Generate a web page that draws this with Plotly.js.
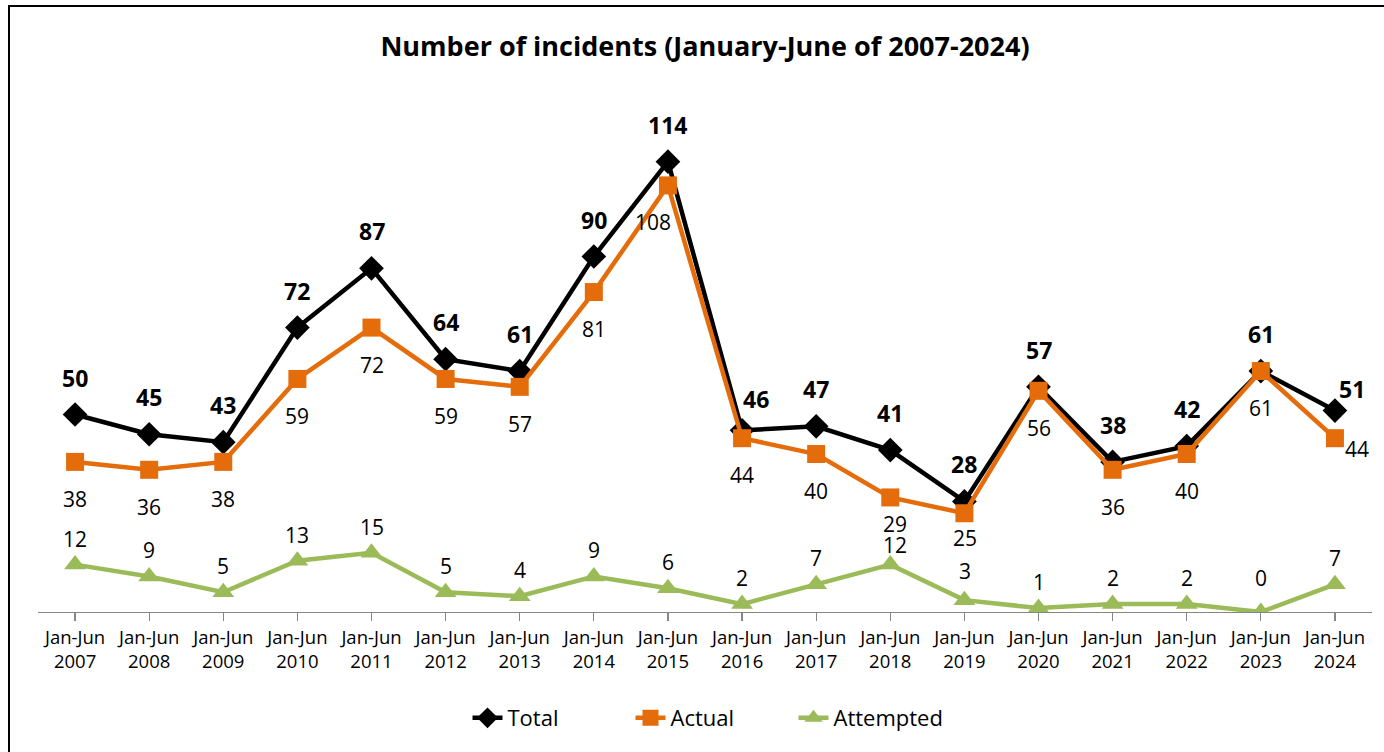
<!DOCTYPE html>
<html>
<head>
<meta charset="utf-8">
<script src="https://cdn.plot.ly/plotly-3.0.1.min.js"></script>
<style>
  html, body { margin: 0; padding: 0; background: #fff; overflow: hidden; }
  #chart { width: 1384px; height: 752px; }
  #frame { position: absolute; left: 8px; top: 5px; width: 1420px; height: 800px; border: 2px solid #000; pointer-events: none; }
</style>
</head>
<body>
<div id="chart"></div>
<div id="frame"></div>
<script>
const categories = ["2007","2008","2009","2010","2011","2012","2013","2014","2015","2016","2017","2018","2019","2020","2021","2022","2023","2024"];
const tickLabels = categories.map(y => "Jan-Jun<br>" + y);
const total =     [50, 45, 43, 72, 87, 64, 61, 90, 114, 46, 47, 41, 28, 57, 38, 42, 61, 51];
const actual =    [38, 36, 38, 59, 72, 59, 57, 81, 108, 44, 40, 29, 25, 56, 36, 40, 61, 44];
const attempted = [12,  9,  5, 13, 15,  5,  4,  9,   6,  2,  7, 12,  3,  1,  2,  2,  0,  7];

const FONT = "'Open Sans', Lato, sans-serif";
const cBlack = "#000000", cOrange = "#E46C0A", cGreen = "#9BBB59";
const xs = categories.map((_, i) => i);

const traces = [
  { x: xs, y: total, name: "Total", mode: "lines+markers", type: "scatter",
    line: { color: cBlack, width: 4.5 }, marker: { symbol: "diamond", size: 19, color: cBlack } },
  { x: xs, y: actual, name: "Actual", mode: "lines+markers", type: "scatter",
    line: { color: cOrange, width: 4.5 }, marker: { symbol: "square", size: 18, color: cOrange } },
  { x: xs, y: attempted, name: "Attempted", mode: "lines+markers", type: "scatter",
    line: { color: cGreen, width: 4.5 }, marker: { symbol: "triangle-up", size: 19, color: cGreen } }
];

// label offsets (pixels)
const totalShift = xs.map(i => ({ dx: 0, dy: 37 }));
totalShift[9] = { dx: 14, dy: 31 };
totalShift[17] = { dx: 17, dy: 22 };
const actualShift = xs.map(i => ({ dx: 0, dy: -37 }));
actualShift[8] = { dx: -15, dy: -37 };
actualShift[11] = { dx: 5, dy: -27 };
actualShift[12] = { dx: 1, dy: -25 };
actualShift[17] = { dx: 22, dy: -11 };
const attShift = xs.map(i => ({ dx: 0, dy: 26 }));
attShift[11] = { dx: 5, dy: 20 };
attShift[12] = { dx: 1, dy: 29 };
attShift[16] = { dx: 0, dy: 34 };

const annotations = [];
xs.forEach(i => {
  annotations.push({ x: i, y: total[i], text: "<b>" + total[i] + "</b>", showarrow: false,
    xshift: totalShift[i].dx, yshift: totalShift[i].dy, font: { family: FONT, size: 23, color: "#000" } });
  annotations.push({ x: i, y: actual[i], text: String(actual[i]), showarrow: false,
    xshift: actualShift[i].dx, yshift: actualShift[i].dy, font: { family: FONT, size: 21, color: "#000" } });
  annotations.push({ x: i, y: attempted[i], text: String(attempted[i]), showarrow: false,
    xshift: attShift[i].dx, yshift: attShift[i].dy, font: { family: FONT, size: 21, color: "#000" } });
});

const layout = {
  width: 1384, height: 752,
  margin: { l: 38, r: 12, t: 138, b: 140 },
  paper_bgcolor: "#fff", plot_bgcolor: "#fff",
  title: { text: "<b>Number of incidents (January-June of 2007-2024)</b>", font: { family: FONT, size: 27, color: "#000" },
           x: 705 / 1384, xref: "container", xanchor: "center", y: 1 - 47 / 752, yref: "container", yanchor: "middle" },
  xaxis: { range: [-0.5, 17.5], tickmode: "array", tickvals: xs, ticktext: tickLabels, tickson: "boundaries",
           ticks: "outside", ticklen: 8, tickcolor: "#868686", tickwidth: 1.3,
           showline: true, linecolor: "#868686", linewidth: 1.3, showgrid: false, zeroline: false,
           tickfont: { family: FONT, size: 18.5, color: "#000" }, fixedrange: true },
  yaxis: { range: [0, 120], visible: false, showgrid: false, zeroline: false, fixedrange: true },
  showlegend: true,
  legend: { orientation: "h", xref: "container", yref: "container", x: 712 / 1384, xanchor: "center",
            y: 1 - 718 / 752, yanchor: "middle", font: { family: FONT, size: 22, color: "#000" },
            entrywidth: 118, entrywidthmode: "pixels", tracegroupgap: 0 },
  annotations: annotations
};

Plotly.newPlot("chart", traces, layout, { displayModeBar: false, staticPlot: true });
</script>
</body>
</html>
